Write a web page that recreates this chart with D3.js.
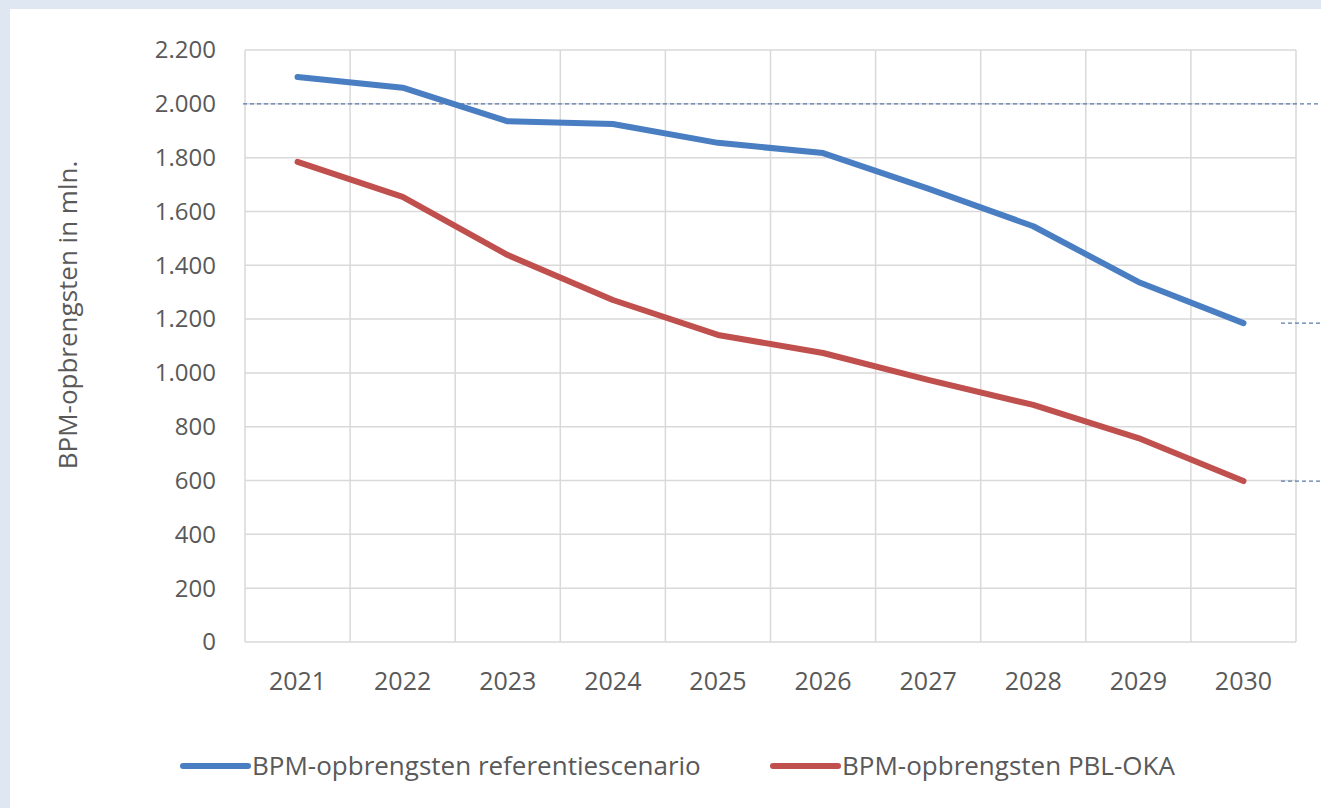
<!DOCTYPE html>
<html>
<head>
<meta charset="utf-8">
<script src="https://cdn.jsdelivr.net/npm/d3@7"></script>
<style>
  body { margin: 0; background: #dfe8f2; }
  svg { display: block; }
</style>
</head>
<body>
<div id="chart-area"></div>
<script>
const years = ['2021', '2022', '2023', '2024', '2025', '2026', '2027', '2028', '2029', '2030'];
const referentie = [2100, 2060, 1935, 1925, 1855, 1817, 1685, 1545, 1338, 1185];
const pblOka = [1784, 1654, 1438, 1271, 1141, 1074, 974, 881, 758, 598];
const yTicks = [0, 200, 400, 600, 800, 1000, 1200, 1400, 1600, 1800, 2000, 2200];
const seriesNames = ['BPM-opbrengsten referentiescenario', 'BPM-opbrengsten PBL-OKA'];
const refLevels = [2000, 1185, 598];

const width = 1321, height = 808;
const font = '"Open Sans", "Noto Sans", sans-serif';

const svg = d3.select("#chart-area").append("svg")
    .attr("width", width)
    .attr("height", height);

// white panel
svg.append("rect")
    .attr("x", 10).attr("y", 9)
    .attr("width", width - 10).attr("height", height - 9)
    .attr("fill", "#ffffff");

const plot = { left: 245, right: 1296, top: 50, bottom: 642 };

const x = d3.scaleBand()
    .domain(years)
    .range([plot.left, plot.right]);

const y = d3.scaleLinear()
    .domain([0, 2200])
    .range([plot.bottom, plot.top]);

// horizontal gridlines
svg.append("g")
    .selectAll("line")
    .data(yTicks)
    .join("line")
    .attr("x1", plot.left).attr("x2", plot.right)
    .attr("y1", d => y(d)).attr("y2", d => y(d))
    .attr("stroke", "#d9d9d9")
    .attr("stroke-width", 1.5);

// vertical gridlines at category boundaries
svg.append("g")
    .selectAll("line")
    .data(years.concat(['end']))
    .join("line")
    .attr("x1", (d, i) => plot.left + i * x.step())
    .attr("x2", (d, i) => plot.left + i * x.step())
    .attr("y1", plot.top).attr("y2", plot.bottom)
    .attr("stroke", "#d9d9d9")
    .attr("stroke-width", 1.5);

// y tick labels
svg.append("g")
    .selectAll("text")
    .data(yTicks)
    .join("text")
    .attr("x", 216)
    .attr("y", d => y(d))
    .attr("dy", "0.35em")
    .attr("text-anchor", "end")
    .attr("font-family", font)
    .attr("font-size", 24)
    .attr("fill", "#595959")
    .text(d => d3.format(",")(d).replace(/,/g, "."));

// x tick labels
svg.append("g")
    .selectAll("text")
    .data(years)
    .join("text")
    .attr("x", d => x(d) + x.bandwidth() / 2)
    .attr("y", 690)
    .attr("text-anchor", "middle")
    .attr("font-family", font)
    .attr("font-size", 25)
    .attr("fill", "#595959")
    .text(d => d);

// y axis title
svg.append("text")
    .attr("transform", "translate(77, 315) rotate(-90)")
    .attr("text-anchor", "middle")
    .attr("font-family", font)
    .attr("font-size", 26)
    .attr("fill", "#595959")
    .text("BPM-opbrengsten in mln.");

// dashed reference lines
svg.append("line")
    .attr("x1", 243).attr("x2", width)
    .attr("y1", y(refLevels[0])).attr("y2", y(refLevels[0]))
    .attr("stroke", "#5a7bab")
    .attr("stroke-width", 1.2)
    .attr("stroke-dasharray", "4,3");

svg.append("g")
    .selectAll("line")
    .data(refLevels.slice(1))
    .join("line")
    .attr("x1", 1281).attr("x2", width)
    .attr("y1", d => y(d)).attr("y2", d => y(d))
    .attr("stroke", "#5a7bab")
    .attr("stroke-width", 1.2)
    .attr("stroke-dasharray", "4,3");

const colors = ['#4a7ec2', '#c0504d'];
const line = d3.line()
    .x((d, i) => x(years[i]) + x.bandwidth() / 2)
    .y(d => y(d));

[referentie, pblOka].forEach((s, i) => {
    svg.append("path")
        .datum(s)
        .attr("d", line)
        .attr("fill", "none")
        .attr("stroke", colors[i])
        .attr("stroke-width", 6)
        .attr("stroke-linecap", "round")
        .attr("stroke-linejoin", "round");
});

// legend
const legendX = [183, 773];
seriesNames.forEach((name, i) => {
    svg.append("line")
        .attr("x1", legendX[i]).attr("x2", legendX[i] + 65)
        .attr("y1", 766).attr("y2", 766)
        .attr("stroke", colors[i])
        .attr("stroke-width", 6)
        .attr("stroke-linecap", "round");
    svg.append("text")
        .attr("x", legendX[i] + 69)
        .attr("y", 766)
        .attr("dy", "0.35em")
        .attr("font-family", font)
        .attr("font-size", 26)
        .attr("fill", "#595959")
        .text(name);
});
</script>
</body>
</html>
